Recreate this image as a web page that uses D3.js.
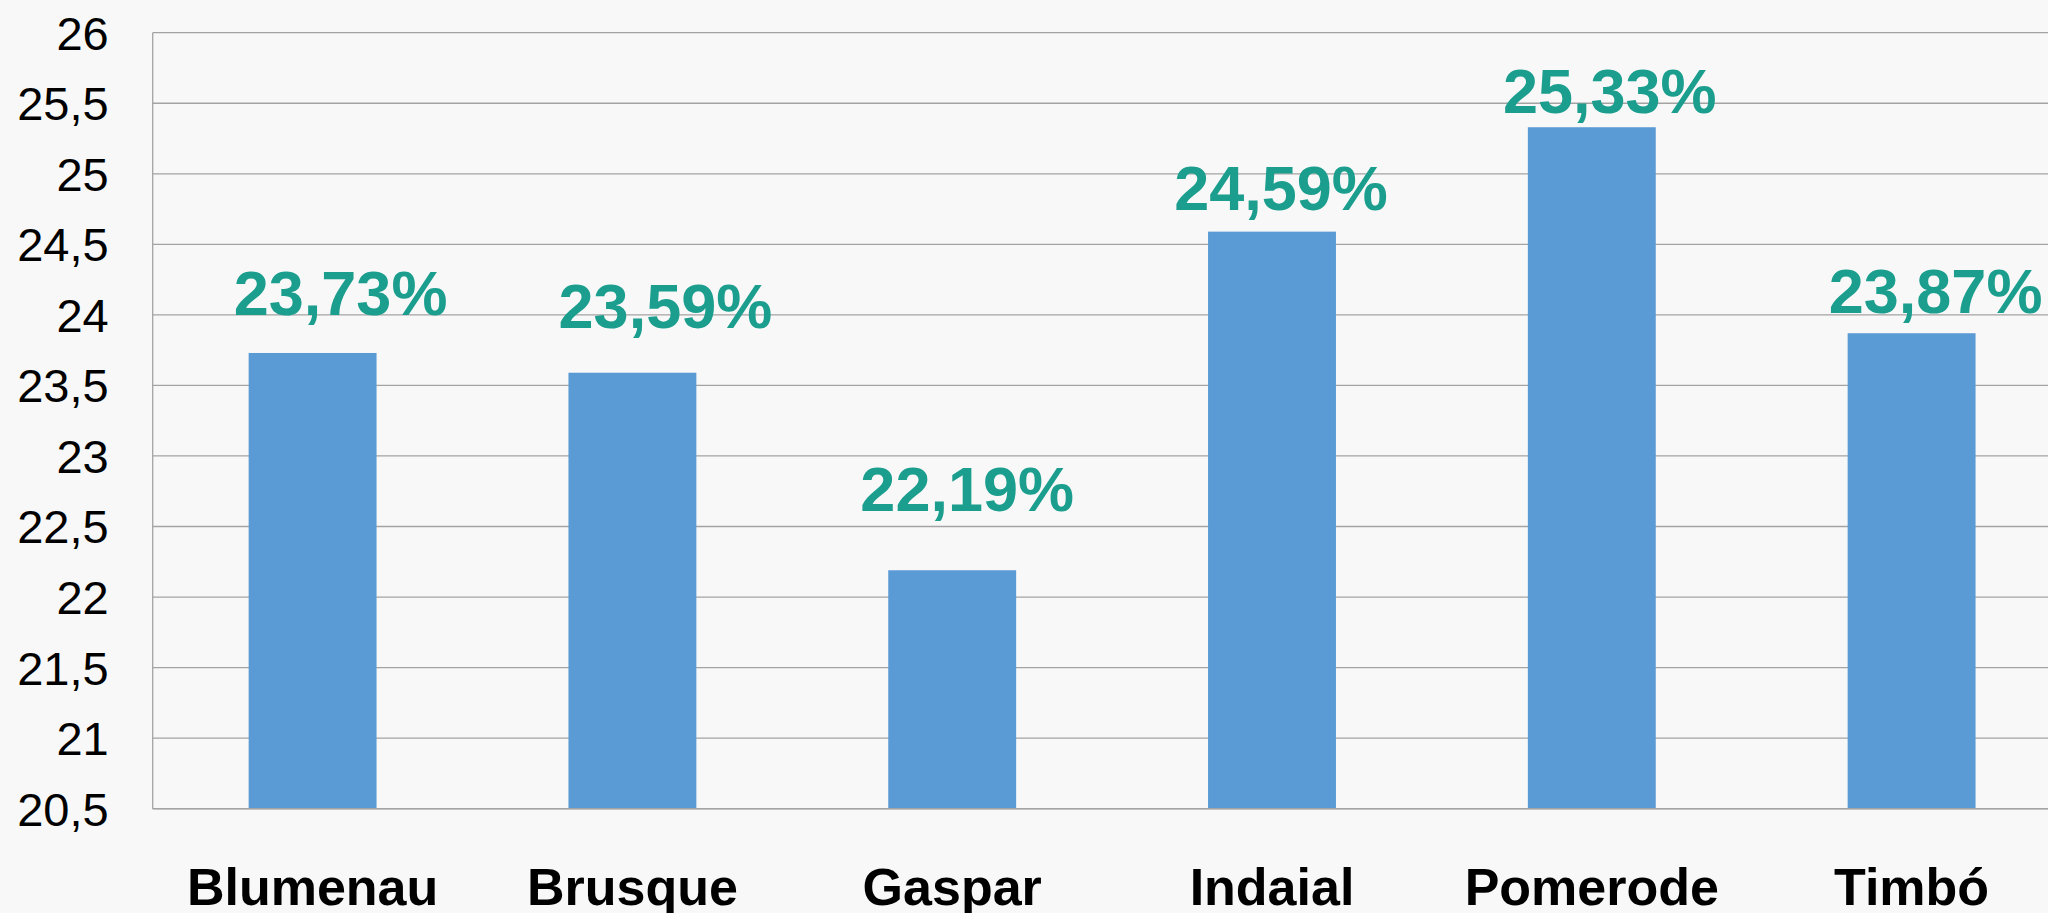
<!DOCTYPE html>
<html>
<head>
<meta charset="utf-8">
<script src="https://cdn.jsdelivr.net/npm/d3@7"></script>
<style>
  html, body { margin: 0; padding: 0; background: #f8f8f8; overflow: hidden; }
  svg { display: block; }
</style>
</head>
<body>
<svg id="chart" width="2048" height="913"></svg>
<script>
// ---- data ----
const categories = ["Blumenau", "Brusque", "Gaspar", "Indaial", "Pomerode", "Timbó"];
const values = [23.73, 23.59, 22.19, 24.59, 25.33, 23.87];
const valueLabels = ["23,73%", "23,59%", "22,19%", "24,59%", "25,33%", "23,87%"];
const yTicks = [20.5, 21, 21.5, 22, 22.5, 23, 23.5, 24, 24.5, 25, 25.5, 26];
const yTickLabels = ["20,5", "21", "21,5", "22", "22,5", "23", "23,5", "24", "24,5", "25", "25,5", "26"];

// ---- layout (manual label nudges as in the original slide) ----
const labelNudge = [[28, -38], [33, -45], [15, -59], [9, -22], [18, -14], [24, -20]];

(function () {
const svg = d3.select("#chart");
const W = 2048, H = 913;
const pLeft = 152.7, pTop = 32.7, pBottom = 808.7, pRight = 2071.5;

svg.append("rect").attr("width", W).attr("height", H).attr("fill", "#f8f8f8");

const x = d3.scaleBand().domain(categories).range([pLeft, pRight])
  .paddingInner(0.6).paddingOuter(0.3);
const y = d3.scaleLinear().domain([20.5, 26]).range([pBottom, pTop]);

// gridlines
svg.append("g").selectAll("line").data(yTicks).join("line")
  .attr("x1", pLeft).attr("x2", W)
  .attr("y1", d => y(d)).attr("y2", d => y(d))
  .attr("stroke", "#a3a3a3").attr("stroke-width", 1.3);

// y axis line
svg.append("line").attr("x1", pLeft).attr("x2", pLeft)
  .attr("y1", pTop).attr("y2", pBottom)
  .attr("stroke", "#a3a3a3").attr("stroke-width", 1.3);

// y tick labels
const yAxis = d3.axisLeft(y).tickValues(yTicks)
  .tickFormat((d, i) => yTickLabels[i]).tickSize(0).tickPadding(44);
const gy = svg.append("g").attr("transform", `translate(${pLeft},0)`).call(yAxis);
gy.select(".domain").remove();
gy.selectAll("text")
  .attr("font-family", "'Liberation Sans', Arial, sans-serif")
  .attr("font-size", 47).attr("fill", "#000").attr("dy", "0.35em");

// bars
svg.append("g").selectAll("rect").data(values).join("rect")
  .attr("x", (d, i) => x(categories[i]))
  .attr("width", x.bandwidth())
  .attr("y", d => y(d))
  .attr("height", d => pBottom - y(d))
  .attr("fill", "#5b9bd5");

// bottom axis line
svg.append("line").attr("x1", pLeft).attr("x2", W)
  .attr("y1", pBottom).attr("y2", pBottom)
  .attr("stroke", "#a3a3a3").attr("stroke-width", 1.5);

// value labels
svg.append("g").selectAll("text").data(values).join("text")
  .attr("x", (d, i) => x(categories[i]) + x.bandwidth() / 2 + labelNudge[i][0])
  .attr("y", (d, i) => y(d) + labelNudge[i][1])
  .attr("text-anchor", "middle")
  .attr("font-family", "'Liberation Sans', Arial, sans-serif")
  .attr("font-weight", "bold").attr("font-size", 63)
  .attr("fill", "#1b9e8e")
  .text((d, i) => valueLabels[i]);

// x category labels
const xAxis = d3.axisBottom(x).tickSize(0).tickPadding(0);
const gx = svg.append("g").attr("transform", `translate(0,${pBottom})`).call(xAxis);
gx.select(".domain").remove();
gx.selectAll("text")
  .attr("y", 96).attr("dy", 0)
  .attr("font-family", "'Liberation Sans', Arial, sans-serif")
  .attr("font-weight", "bold").attr("font-size", 52).attr("fill", "#000");
})();
</script>
</body>
</html>
